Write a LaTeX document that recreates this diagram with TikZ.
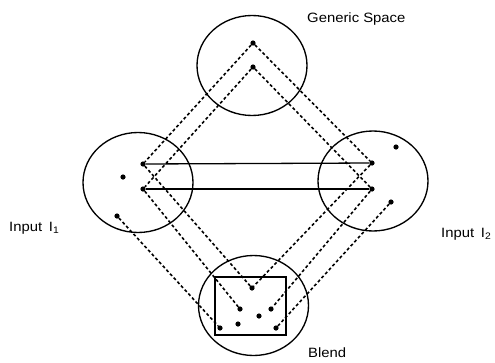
\documentclass[tikz,border=0pt]{standalone}
\usepackage{fontspec}
\setmainfont{Liberation Sans}
\usetikzlibrary{shapes.geometric}
\newcommand{\wide}[1]{\scalebox{1.1}[1]{#1}}
\begin{document}
\begin{tikzpicture}[x=1pt,y=-1pt,
  space/.style={draw, ellipse, line width=1.35pt, minimum width=110pt, minimum height=100pt, inner sep=0pt},
  dot/.style={circle, fill, inner sep=0pt, minimum size=5.2pt},
  map/.style={line width=1.6pt, dash pattern=on 3pt off 2.4pt},
  link/.style={line width=1.3pt},
  lbl/.style={inner sep=0pt, font=\fontsize{13.5}{16}\selectfont}]
\useasboundingbox (0,0) rectangle (495,362);
% spaces
\node[space] (gen) at (252,65.5) {};
\node[space] (in1) at (138,182.5) {};
\node[space] (in2) at (373,181) {};
\node[space] (bl) at (253.5,305.5) {};
\node[draw, line width=1.3pt, minimum width=71pt, minimum height=58pt, inner sep=0pt] (box) at (250.5,306) {};
% dots
\node[dot] (g1) at (253,43) {};
\node[dot] (g2) at (253,67) {};
\node[dot] (l1) at (143,164) {};
\node[dot] (l2) at (143,189) {};
\node[dot] (l3) at (123,177) {};
\node[dot] (l4) at (117,216) {};
\node[dot] (r1) at (372,163) {};
\node[dot] (r2) at (372,189) {};
\node[dot] (r3) at (396,147) {};
\node[dot] (r4) at (391,202) {};
\node[dot] (b1) at (252,288) {};
\node[dot] (b2) at (240,309) {};
\node[dot] (b3) at (271,309) {};
\node[dot] (b4) at (259,316) {};
\node[dot] (b5) at (238,324) {};
\node[dot] (b6) at (220,328) {};
\node[dot] (b7) at (276,328) {};
% solid links
\draw[link] (l1) -- (r1);
\draw[link] (l2) -- (r2);
% dashed mappings
\draw[map] (g1) -- (l1);
\draw[map] (g1) -- (r1);
\draw[map] (g2) -- (l2);
\draw[map] (g2) -- (r2);
\draw[map] (l1) -- (b1);
\draw[map] (r1) -- (b1);
\draw[map] (l2) -- (b2);
\draw[map] (r2) -- (b3);
\draw[map] (l4) -- (b6);
\draw[map] (r4) -- (b7);
% labels
\node[lbl, anchor=base west] (tg) at (307,22) {\wide{Generic Space}};
\node[lbl, anchor=base west] (t1) at (9,231) {\wide{Input\hspace{0.45em}I\textsubscript{1}}};
\node[lbl, anchor=base west] (t2) at (441,237) {\wide{Input\hspace{0.45em}I\textsubscript{2}}};
\node[lbl, anchor=base west] (tb) at (308,357) {\wide{Blend}};
\end{tikzpicture}
\end{document}
